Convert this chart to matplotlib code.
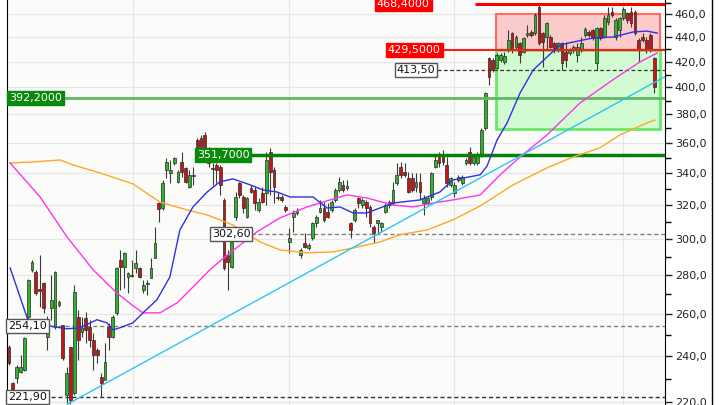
import matplotlib
matplotlib.use("Agg")
import matplotlib.pyplot as plt
from matplotlib.lines import Line2D
from matplotlib.patches import Rectangle
from matplotlib.ticker import FixedLocator, FuncFormatter, NullFormatter

# daily candles
opens = [244.2, 228.0, 230.2, 232.9, 233.8, 258.6, 282.8, 281.7, 272.7, 275.8,
         249.0, 263.1, 253.8, 264.6, 254.7, 222.9, 244.2, 223.8, 258.6, 251.3,
         258.1, 253.8, 247.5, 242.9, 230.7, 229.3, 253.8, 249.0, 260.6, 288.2,
         284.4, 279.0, 280.0, 283.8, 283.8, 272.2, 275.3, 278.5, 289.3, 321.1,
         318.1, 342.0, 340.0, 346.5, 334.3, 347.2, 343.3, 331.1, 338.1, 362.0,
         363.4, 365.5, 353.8, 343.3, 345.2, 343.9, 323.0, 291.0, 284.4, 312.8,
         333.6, 324.8, 312.8, 330.5, 329.2, 316.9, 327.3, 327.3, 353.8, 342.0,
         324.2, 324.8, 318.7, 298.2, 312.8, 315.1, 291.0, 297.7, 294.8, 300.5,
         309.2, 315.7, 318.1, 315.7, 316.9, 323.0, 329.2, 332.4, 330.5, 309.2,
         311.0, 324.2, 319.9, 321.7, 318.7, 306.9, 309.2, 306.9, 315.7, 319.9,
         321.1, 333.6, 343.9, 340.7, 336.8, 336.8, 331.1, 334.3, 321.1, 321.1,
         324.8, 343.9, 350.5, 351.8, 345.2, 332.4, 327.3, 335.5, 333.6, 346.5,
         353.8, 346.5, 346.5, 351.8, 370.4, 423.1, 421.5, 415.1, 421.5, 419.9,
         429.6, 443.6, 432.0, 435.3, 427.9, 441.9, 444.5, 443.6, 466.2, 443.6,
         440.3, 440.3, 435.3, 429.6, 435.3, 427.9, 427.1, 429.6, 425.5, 429.6,
         441.9, 444.5, 446.0, 419.1, 447.7, 440.3, 453.0, 461.8, 440.3, 446.0,
         456.5, 460.9, 461.8, 461.8, 437.8, 440.3, 437.8, 441.9, 423.1]
highs = [245.1, 228.5, 236.0, 240.6, 249.0, 277.9, 288.2, 282.8, 291.0, 276.4,
         259.1, 280.1, 282.2, 267.1, 254.7, 235.2, 244.2, 274.8, 262.1, 258.6,
         261.1, 257.2, 250.9, 243.8, 232.4, 246.1, 255.7, 259.6, 284.4, 293.7,
         292.6, 281.7, 288.2, 293.7, 284.4, 277.4, 277.4, 289.3, 306.9, 321.7,
         335.5, 349.8, 348.5, 350.5, 342.0, 353.8, 343.9, 342.0, 343.9, 363.4,
         365.5, 367.6, 357.3, 346.5, 346.5, 345.2, 324.2, 293.7, 303.4, 327.9,
         334.3, 326.1, 324.8, 332.4, 331.1, 324.2, 331.1, 353.8, 356.6, 343.9,
         327.9, 326.1, 319.9, 306.3, 316.9, 318.1, 294.8, 303.4, 297.7, 309.8,
         313.9, 323.0, 321.7, 321.1, 323.0, 330.5, 337.4, 335.5, 335.5, 309.8,
         318.1, 324.8, 324.2, 323.0, 319.9, 308.0, 311.0, 309.8, 321.1, 323.0,
         334.3, 346.5, 347.2, 346.5, 340.7, 340.0, 340.0, 340.0, 326.1, 324.8,
         340.7, 351.8, 353.8, 355.2, 350.5, 337.4, 334.3, 338.8, 338.8, 349.8,
         357.3, 351.8, 353.8, 370.4, 396.6, 423.9, 423.1, 427.1, 427.1, 427.9,
         446.0, 444.5, 441.9, 436.1, 440.3, 450.5, 446.0, 460.9, 468.4, 444.5,
         453.0, 441.9, 436.1, 436.1, 436.1, 436.1, 431.2, 433.7, 435.3, 440.3,
         448.6, 446.0, 446.9, 448.6, 448.6, 459.1, 466.2, 466.2, 456.5, 457.4,
         466.0, 461.8, 466.2, 463.5, 439.5, 443.6, 440.3, 443.6, 423.9]
lows = [236.0, 224.3, 228.0, 232.4, 233.3, 257.2, 281.7, 269.6, 263.6, 260.6,
        242.9, 257.2, 252.8, 263.6, 238.3, 219.6, 219.2, 222.9, 238.3, 249.0,
        246.1, 244.2, 233.8, 237.0, 222.1, 229.3, 242.9, 248.5, 259.6, 272.2,
        273.2, 270.6, 279.0, 281.2, 278.5, 270.6, 269.6, 278.5, 289.3, 309.8,
        316.9, 336.8, 333.6, 345.2, 333.6, 337.4, 333.6, 330.5, 332.4, 356.6,
        355.9, 355.2, 343.9, 332.4, 333.6, 326.1, 282.8, 272.2, 283.8, 311.0,
        324.2, 315.1, 312.2, 327.3, 316.9, 315.7, 321.1, 319.9, 326.1, 321.1,
        323.0, 321.7, 315.7, 292.1, 304.0, 313.9, 289.3, 294.8, 293.7, 299.3,
        306.9, 315.1, 309.8, 312.2, 315.7, 321.7, 327.9, 327.9, 329.2, 300.5,
        309.8, 318.1, 318.1, 312.8, 306.9, 297.7, 303.4, 304.0, 315.1, 318.1,
        319.9, 332.4, 336.8, 337.4, 327.3, 327.9, 327.9, 323.0, 313.9, 319.9,
        323.0, 343.3, 343.9, 345.2, 331.1, 331.1, 324.8, 334.3, 332.4, 345.2,
        345.2, 345.2, 345.2, 350.5, 369.0, 402.0, 411.9, 414.3, 419.9, 418.3,
        427.9, 427.1, 429.6, 419.1, 427.1, 440.3, 440.3, 441.9, 433.7, 415.9,
        429.6, 431.2, 427.1, 427.9, 413.5, 415.9, 425.5, 427.1, 419.9, 427.9,
        440.3, 440.3, 437.8, 413.5, 437.8, 439.5, 450.5, 457.4, 437.8, 440.3,
        454.8, 452.2, 448.6, 441.9, 419.9, 436.1, 427.1, 427.9, 395.9]
closes = [237.0, 225.0, 235.2, 235.2, 248.5, 277.4, 287.1, 270.6, 271.7, 263.1,
          250.9, 267.1, 281.7, 266.1, 239.2, 232.4, 220.9, 271.1, 247.5, 253.3,
          252.3, 247.5, 240.6, 240.6, 228.0, 237.4, 249.0, 258.6, 283.8, 284.4,
          292.1, 281.2, 279.5, 286.5, 279.0, 274.8, 275.8, 283.8, 297.7, 317.5,
          333.6, 347.2, 342.0, 349.8, 340.7, 340.7, 334.3, 338.8, 338.8, 357.3,
          357.3, 357.3, 346.5, 342.6, 342.0, 332.4, 283.8, 287.1, 298.2, 324.8,
          326.1, 318.1, 324.2, 327.9, 321.1, 321.7, 321.7, 348.5, 340.7, 331.1,
          324.8, 323.0, 316.9, 300.5, 315.1, 316.3, 293.7, 295.3, 296.5, 309.2,
          312.8, 318.1, 311.0, 312.8, 321.7, 329.2, 334.3, 329.2, 331.7, 305.1,
          316.9, 321.1, 323.0, 318.1, 309.2, 303.4, 311.0, 309.2, 319.9, 321.7,
          329.2, 338.8, 338.8, 338.8, 327.9, 329.2, 334.3, 327.9, 324.2, 324.2,
          340.0, 348.5, 346.5, 347.2, 333.6, 336.8, 332.4, 337.4, 337.4, 348.5,
          346.5, 350.5, 351.2, 369.0, 395.9, 408.1, 413.5, 425.5, 425.5, 424.7,
          437.8, 429.6, 440.3, 425.5, 439.5, 443.6, 441.9, 459.1, 435.3, 436.1,
          452.2, 432.0, 431.2, 435.3, 419.1, 421.5, 429.6, 432.0, 432.0, 435.3,
          446.9, 441.9, 439.5, 447.7, 439.5, 456.5, 459.1, 459.1, 454.8, 456.5,
          464.4, 454.8, 452.2, 443.6, 429.6, 437.8, 429.6, 429.6, 400.4]

# moving averages, sampled along the curves (bar index, price)
ma_fast_x = [0.3, 4.9, 11.5, 15.1, 18.5, 22.9, 25.5, 27.1, 28.9, 32.3, 34.9, 38.5,
             41.9, 44.5, 47.9, 51.6, 54.9, 58.3, 62.8, 66.1, 69.8, 73.2, 79.2, 82.8,
             86.2, 89.6, 93.2, 96.6, 100, 107, 112.2, 115.6, 122.7, 124.5, 127.1,
             129.7, 133.1, 136.5, 140.1, 143.5, 146.9, 152.1, 157.3, 162.5, 166.1, 168.8]
ma_fast_y = [283.8, 257.2, 253.8, 252.8, 253.3, 257.2, 255.7, 252.3, 253.3, 255.7, 260.6, 267.1,
             279.0, 305.1, 318.7, 327.9, 334.3, 336.2, 332.4, 329.2, 327.9, 324.8, 324.8, 318.1,
             318.7, 315.1, 315.1, 318.1, 321.1, 323.0, 327.9, 335.5, 338.8, 344.5, 362.0,
             373.9, 395.9, 413.5, 423.9, 433.7, 436.1, 439.5, 440.3, 444.5, 445.3, 443.6]
ma_mid_x = [0.3, 8.1, 15.1, 21.9, 28.1, 32.3, 34.9, 39.3, 43.8, 47.9, 52.3, 56.3, 60.2,
            64.6, 70.6, 77.6, 83.6, 88.0, 93.2, 100, 105.2, 110.4, 115.6, 122.7, 127.9,
            133.1, 140.1, 148.7, 157.3, 164.3, 168.8]
ma_mid_y = [346.5, 324.8, 301.1, 282.8, 270.6, 264.1, 260.6, 260.6, 265.6, 273.7, 282.8, 289.9, 296.5,
            304.0, 312.2, 318.7, 323.0, 326.1, 324.2, 319.9, 318.7, 321.1, 323.0, 326.1, 338.8,
            350.5, 365.5, 388.4, 406.0, 419.9, 427.1]
ma_slow_x = [0.3, 6.3, 13.3, 16.7, 23.7, 32.3, 39.3, 46.4, 51.6, 58.3, 65.4, 70.6, 77.6,
             84.4, 89.6, 96.6, 101.8, 108.9, 115.6, 122.7, 131.3, 140.1, 146.9, 153.9,
             159.1, 166.1, 168.2]
ma_slow_y = [346.5, 347.2, 348.5, 345.2, 340.0, 333.0, 321.7, 316.9, 313.9, 308.0, 298.2, 293.7, 292.1,
             292.6, 294.8, 298.2, 302.3, 305.1, 311.0, 319.3, 332.4, 343.3, 350.5, 356.6,
             365.5, 373.9, 376.0]
trend_x = [15.1, 170.8]
trend_y = [218.9, 408.3]

# horizontal levels: value, start bar, label text
level_top = 468.4
level_res = 429.5
level_mid = 413.50
level_green = 392.2
level_dkgreen = 351.7
level_302 = 302.60
level_254 = 254.10
level_222 = 221.90
box_x = [126.8, 169.5]
box_red = [429.5, 460.0]
box_green = [369.7, 429.5]
month_lines = [32.3, 72.9, 115.9, 159.9]

fig = plt.figure(figsize=(7.2, 4.05), dpi=100)
ax = fig.add_axes([7 / 720, 0, 658 / 720, 1])
ax.set_facecolor("#fbfcfa")
ax.set_yscale("log")
ax.set_ylim(218.7, 472.4)
ax.set_xlim(-0.52, 170.83)

# zones
ax.add_patch(Rectangle((box_x[0], box_red[0]), box_x[1] - box_x[0], box_red[1] - box_red[0],
                       fc="#fbcaca", ec="#ff6b6b", lw=1.5, zorder=1))
ax.add_patch(Rectangle((box_x[0], box_green[0]), box_x[1] - box_x[0], box_green[1] - box_green[0],
                       fc="#d2fbd2", ec="#6be86b", lw=2, zorder=1))

# candles
for i in range(len(opens)):
    o, h, l, c = opens[i], highs[i], lows[i], closes[i]
    col = "#2db52d" if c >= o else "#c81414"
    ax.vlines(i, l, h, color="#3a3a3a", lw=0.8, zorder=3)
    lo, hi = min(o, c), max(o, c)
    if hi - lo < 0.6:
        hi = lo + 0.6
    ax.bar(i, hi - lo, bottom=lo, width=0.72, color=col, edgecolor="#2a2a2a", lw=0.5, zorder=3.5)

# levels
xend = 170.83
ax.hlines(level_top, 121.4, xend, color="#ff0000", lw=2.2, zorder=4)
ax.hlines(level_res, 113.0, xend, color="#ff1a1a", lw=1.5, zorder=4)
ax.hlines(level_mid, 110.0, xend, color="#333333", lw=0.9, ls=(0, (3, 2)), zorder=4)
ax.hlines(level_green, 14.0, xend, color="#62b862", lw=2, zorder=4)
ax.hlines(level_dkgreen, 63.0, xend, color="#068006", lw=2.5, zorder=4)
ax.hlines(level_302, 63.0, xend, color="#808080", lw=1, ls=(0, (3, 2)), zorder=2)
ax.hlines(level_254, 11.0, xend, color="#808080", lw=1, ls=(0, (3, 2)), zorder=2)
ax.hlines(level_222, 11.0, xend, color="#333333", lw=1, ls=(0, (3, 2)), zorder=2)

# moving averages and trend line
ax.plot(ma_slow_x, ma_slow_y, color="#ffa726", lw=1, zorder=4.5)
ax.plot(ma_mid_x, ma_mid_y, color="#ff33ee", lw=1, zorder=4.5)
ax.plot(ma_fast_x, ma_fast_y, color="#3030e0", lw=1, zorder=4.5)
ax.plot(trend_x, trend_y, color="#2ec4f4", lw=1, zorder=4.5)

def fmt_lbl(v, d):
    return f"{v:.{d}f}".replace(".", ",")

def tag(x, y, txt, fc, ec, tc):
    ax.text(x, y, txt, fontsize=8, color=tc, va="center", ha="left", zorder=6,
            bbox=dict(boxstyle="square,pad=0.18", fc=fc, ec=ec, lw=1))

tag(95.8, level_top, fmt_lbl(level_top, 4), "#ff0000", "#ff0000", "white")
tag(98.6, level_res, fmt_lbl(level_res, 4), "#ff0000", "#ff0000", "white")
tag(101.0, level_mid, fmt_lbl(level_mid, 2), "white", "#555555", "#111111")
tag(0.0, level_green, fmt_lbl(level_green, 4), "#0a8a0a", "#0a8a0a", "white")
tag(48.9, level_dkgreen, fmt_lbl(level_dkgreen, 4), "#0a8a0a", "#0a8a0a", "white")
tag(52.8, level_302, fmt_lbl(level_302, 2), "white", "#555555", "#111111")
tag(-0.3, level_254, fmt_lbl(level_254, 2), "white", "#555555", "#111111")
tag(-0.3, level_222, fmt_lbl(level_222, 2), "white", "#555555", "#111111")

# axes styling
ax.yaxis.tick_right()
ax.yaxis.set_major_locator(FixedLocator(list(range(220, 461, 20))))
ax.yaxis.set_minor_locator(FixedLocator(list(range(230, 471, 20))))
ax.yaxis.set_major_formatter(FuncFormatter(lambda v, p: fmt_lbl(v, 1)))
ax.yaxis.set_minor_formatter(NullFormatter())
ax.tick_params(axis="y", which="major", length=5, width=1, labelsize=8, colors="#222222", pad=2)
ax.tick_params(axis="y", which="minor", length=4, width=1)
ax.set_xticks(month_lines)
ax.set_xticklabels([])
ax.tick_params(axis="x", length=0)
ax.grid(True, axis="y", which="major", color="#e6e6e6", lw=0.8, zorder=0)
ax.grid(True, axis="x", color="#e6e6e6", lw=0.8, zorder=0)
ax.set_axisbelow(True)
for s in ["top", "bottom"]:
    ax.spines[s].set_visible(False)
ax.spines["left"].set_color("black")
ax.spines["right"].set_color("black")
fig.add_artist(Line2D([712 / 720, 712 / 720], [0, 1], color="black", lw=1, transform=fig.transFigure))

fig.savefig("out.png", dpi=100)
